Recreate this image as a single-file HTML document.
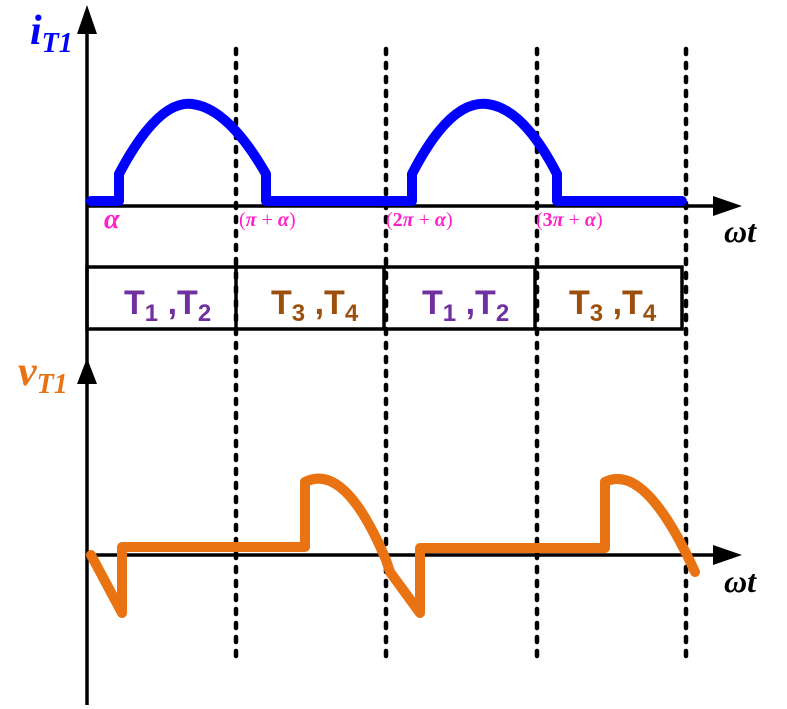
<!DOCTYPE html>
<html><head><meta charset="utf-8"><style>
html,body{margin:0;padding:0;background:#fff;}
svg{display:block;}
</style></head><body>
<svg width="787" height="709" viewBox="0 0 787 709" xmlns="http://www.w3.org/2000/svg">
<g stroke="#000" stroke-width="4.5" stroke-dasharray="5,9" stroke-linecap="round">
<line x1="236" y1="49" x2="236" y2="658"/>
<line x1="386" y1="49" x2="386" y2="658"/>
<line x1="537" y1="49" x2="537" y2="658"/>
<line x1="686" y1="49" x2="686" y2="658"/>
</g>
<g stroke="#000" stroke-width="3.5">
<line x1="87" y1="30" x2="87" y2="705"/>
<line x1="87" y1="206" x2="715" y2="206"/>
<line x1="87" y1="555" x2="715" y2="555"/>
</g>
<polygon points="87,5 77,34 97,34" fill="#000"/>
<polygon points="87,358 77,384 97,384" fill="#000"/>
<polygon points="742,206 713,196 713,216" fill="#000"/>
<polygon points="742,555 713,545 713,565" fill="#000"/>
<rect x="87" y="267" width="595" height="62" fill="none" stroke="#000" stroke-width="3.5"/>
<line x1="236" y1="267" x2="236" y2="329" stroke="#000" stroke-width="3.5"/>
<line x1="384" y1="267" x2="384" y2="329" stroke="#000" stroke-width="3.5"/>
<line x1="535" y1="267" x2="535" y2="329" stroke="#000" stroke-width="3.5"/>
<g font-family="Liberation Sans, sans-serif" font-size="34" font-weight="bold">
<text x="124" y="314" fill="#7030a0">T<tspan font-size="24" dy="7">1</tspan><tspan dy="-7"> ,T</tspan><tspan font-size="24" dy="7">2</tspan></text>
<text x="271" y="314" fill="#9c4f0c">T<tspan font-size="24" dy="7">3</tspan><tspan dy="-7"> ,T</tspan><tspan font-size="24" dy="7">4</tspan></text>
<text x="422" y="314" fill="#7030a0">T<tspan font-size="24" dy="7">1</tspan><tspan dy="-7"> ,T</tspan><tspan font-size="24" dy="7">2</tspan></text>
<text x="569" y="314" fill="#9c4f0c">T<tspan font-size="24" dy="7">3</tspan><tspan dy="-7"> ,T</tspan><tspan font-size="24" dy="7">4</tspan></text>
</g>
<path d="M91,201 H119 V174 Q158,100 192,104 Q228,108 266,174 V201 H412 V174 Q450,100 487,104 Q523,108 557,174 V201 H682" fill="none" stroke="#0000ff" stroke-width="10" stroke-linecap="round" stroke-linejoin="round"/>
<path d="M91,555 L122,613 V547 H305 V482 Q345,462 386,560 L390,572 L420,613 V548 H605 V482 Q645,462 695,572" fill="none" stroke="#e97212" stroke-width="10" stroke-linecap="round" stroke-linejoin="round"/>
<g font-family="Liberation Serif, serif" font-style="italic" font-weight="bold">
<text x="30" y="44" fill="#0000ff" font-size="42">i<tspan font-size="28" dy="8">T1</tspan></text>
<text x="18" y="385" fill="#e97212" font-size="42">v<tspan font-size="28" dy="8">T1</tspan></text>
<text x="104" y="228" fill="#ff1fc8" font-size="28">α</text>
<text x="724" y="242" fill="#000" font-size="32">ωt</text>
<text x="724" y="592" fill="#000" font-size="32">ωt</text>
</g>
<g font-family="Liberation Serif, serif" font-size="20" fill="#ff1fc8">
<text x="239" y="226">(<tspan font-style="italic" font-weight="bold">π</tspan> + <tspan font-style="italic" font-weight="bold">α</tspan>)</text>
<text x="386" y="226">(<tspan font-weight="bold">2</tspan><tspan font-style="italic" font-weight="bold">π</tspan> + <tspan font-style="italic" font-weight="bold">α</tspan>)</text>
<text x="536" y="226">(<tspan font-weight="bold">3</tspan><tspan font-style="italic" font-weight="bold">π</tspan> + <tspan font-style="italic" font-weight="bold">α</tspan>)</text>
</g>
</svg>
</body></html>
